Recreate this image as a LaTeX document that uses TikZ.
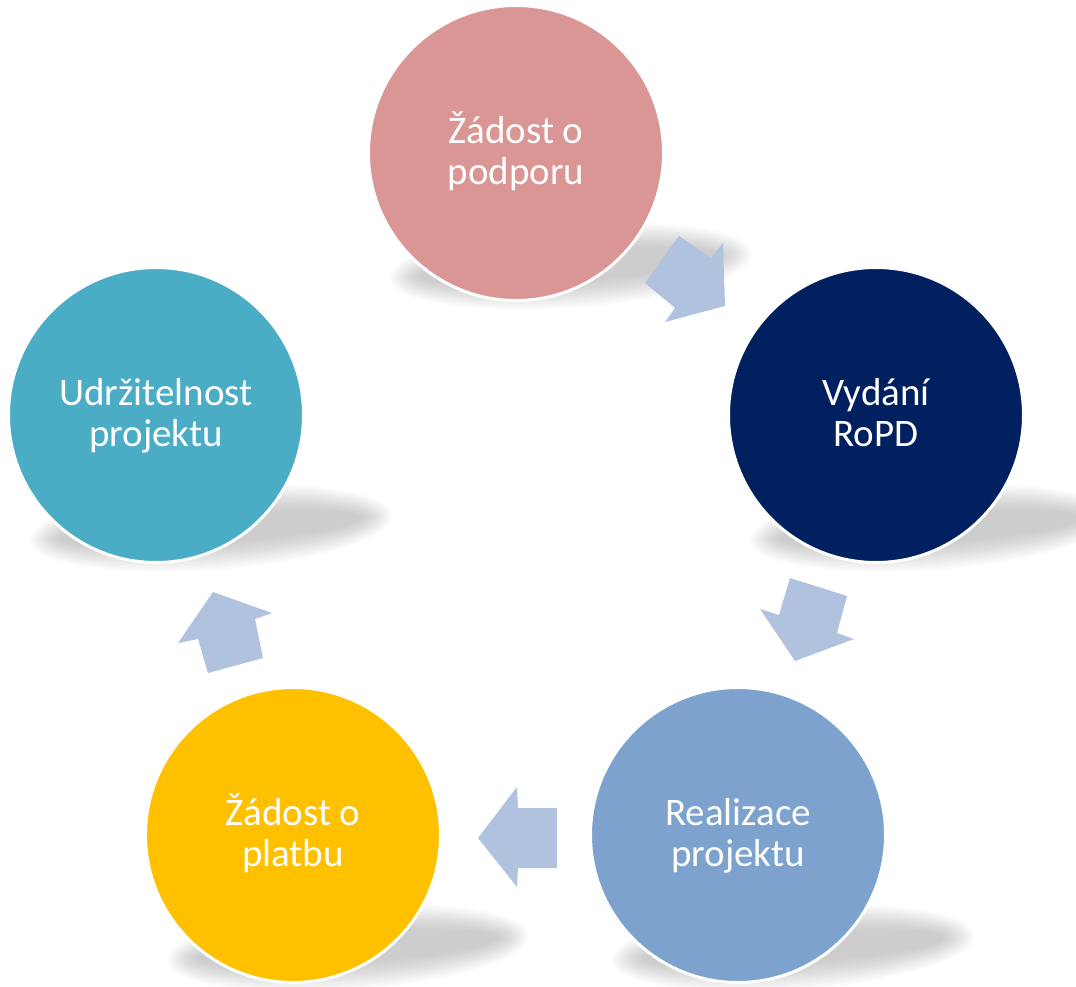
\documentclass[tikz,border=0pt]{standalone}
\usepackage{fontspec}
\setmainfont{Carlito}
\definecolor{cpink}{HTML}{D99694}
\definecolor{cnavy}{HTML}{002060}
\definecolor{cblue}{HTML}{7CA2CD}
\definecolor{cyellow}{HTML}{FFC000}
\definecolor{cteal}{HTML}{4BACC6}
\definecolor{arrowblue}{HTML}{B0C2DE}
\newcommand{\twolines}[2]{\rule{0pt}{34pt}#1\\#2\rule[-12pt]{0pt}{12pt}}
\newcommand{\dropshadow}[2]{%
  \begin{scope}[shift={(#1,#2)}, rotate=4]
    \foreach \k in {0,...,13}{%
      \fill[black, opacity=0.016] (0,0) ellipse ({(182-2.4*\k)*1pt} and {(42-2*\k)*1pt});
    }
  \end{scope}}
\begin{document}
\begin{tikzpicture}[x=1pt,y=-1pt,
  stage/.style={circle, minimum size=295pt, inner sep=0pt, draw=white, line width=3pt,
    text=white, align=center, font=\fontsize{39}{41}\selectfont},
  flowarrow/.style={fill=arrowblue, draw=none}]
\useasboundingbox (0,0) rectangle (1076,987);
\clip (0,0) rectangle (1076,987);
% shadows
\dropshadow{571}{266}
\dropshadow{931}{528}
\dropshadow{793}{948}
\dropshadow{348}{948}
\dropshadow{211}{528}
% stages
\node[stage, fill=cpink]   (podpora)  at (516,153) {\twolines{Žádost o}{podporu}};
\node[stage, fill=cnavy]   (ropd)     at (876,415) {\twolines{Vydání}{RoPD}};
\node[stage, fill=cblue]   (realizace) at (738,835) {\twolines{Realizace}{projektu}};
\node[stage, fill=cyellow] (platba)   at (293,835) {\twolines{Žádost o}{platbu}};
\node[stage, fill=cteal]   (udrz)     at (156,415) {\twolines{Udržitelnost}{projektu}};
% block arrows
\fill[flowarrow] (679,236) -- (711,258) -- (723,243) -- (725,306) -- (665,322) -- (675,308) -- (645,283) -- cycle;
\fill[flowarrow] (790,578) -- (847,596) -- (837,633) -- (854,639) -- (795,661) -- (760,609) -- (779,615) -- cycle;
\fill[flowarrow] (557,808) -- (518,808) -- (517,787) -- (478,838) -- (517,887) -- (518,868) -- (557,868) -- cycle;
\fill[flowarrow] (213,592) -- (272,613) -- (255,619) -- (263,658) -- (208,673) -- (198,639) -- (178,643) -- cycle;
\end{tikzpicture}
\end{document}
